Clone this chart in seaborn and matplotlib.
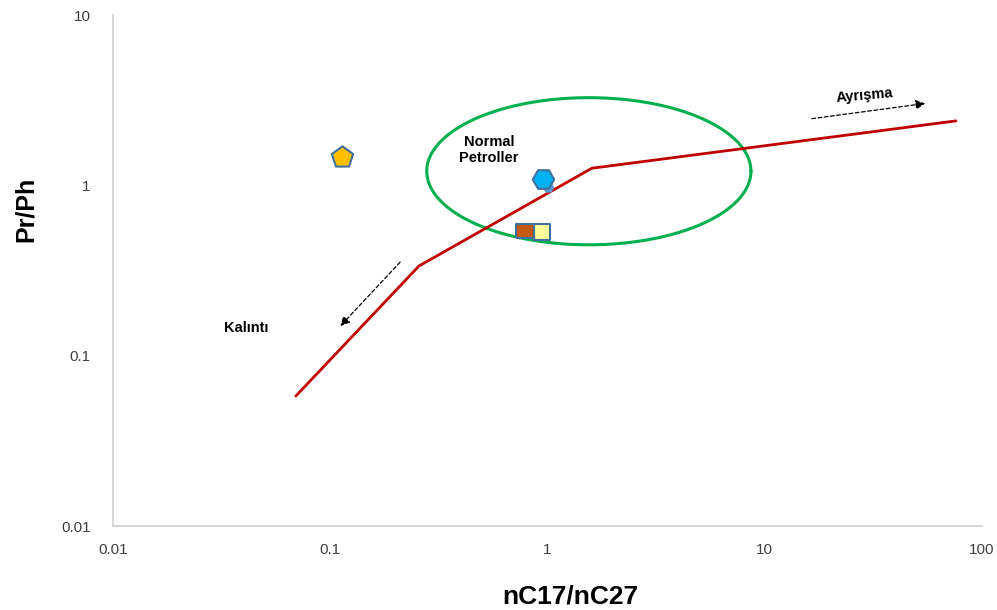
import numpy as np
import pandas as pd
import matplotlib
matplotlib.use("Agg")
import matplotlib.pyplot as plt
import seaborn as sns

# Maturity / source trend line (nC17/nC27 vs Pr/Ph)
trend_x = [0.0695, 0.256, 1.60, 75.9]
trend_y = [0.058, 0.336, 1.26, 2.39]

# Samples
sample_names = ["S1", "S2", "S3", "S4", "S5"]
sample_x = [0.113, 0.953, 1.005, 0.79, 0.944]
sample_y = [1.47, 1.09, 0.98, 0.54, 0.53]
wide_rect = [(-1.4, -1), (1.4, -1), (1.4, 1), (-1.4, 1), (-1.4, -1)]
sample_markers = ["p", "H", "H", wide_rect, "s"]
sample_colors = ["#FFC000", "#00B0F0", "#5B9BD5", "#C55A11", "#FFFF99"]
sample_edges = ["#41719C", "#41719C", "#5B9BD5", "#41719C", "#41719C"]
sample_sizes = [260, 240, 45, 175, 125]
sample_z = [5, 6, 5, 5, 6]

# "Normal Petroller" field: ellipse in log space (centre, half-axes in decades)
field_center = (1.55, 1.21)
field_half_axes = (0.746, 0.432)

x_ticks = [0.01, 0.1, 1, 10, 100]
y_ticks = [0.01, 0.1, 1, 10]
x_tick_labels = ["0.01", "0.1", "1", "10", "100"]
y_tick_labels = ["0.01", "0.1", "1", "10"]

sns.set_style("white")
plt.rcParams["font.family"] = ["Liberation Sans", "DejaVu Sans"]
plt.rcParams["text.color"] = "black"

fig = plt.figure(figsize=(9.97, 6.10), dpi=100)
ax = fig.add_axes([0.1133, 0.1377, 0.8717, 0.8377])

trend = pd.DataFrame({"x": trend_x, "y": trend_y})
sns.lineplot(data=trend, x="x", y="y", ax=ax, color="#C00000", linewidth=2.0,
             sort=False, zorder=3)

# Ellipse boundary drawn through the log-scaled axes
t = np.linspace(0, 2 * np.pi, 400)
lx = np.log10(field_center[0]) + field_half_axes[0] * np.cos(t)
ly = np.log10(field_center[1]) + field_half_axes[1] * np.sin(t)
ax.plot(10 ** lx, 10 ** ly, color="#00B050", linewidth=2.2, zorder=2)

samples = pd.DataFrame({"x": sample_x, "y": sample_y, "name": sample_names})
for i, row in samples.iterrows():
    sns.scatterplot(x=[row.x], y=[row.y], ax=ax, marker=sample_markers[i],
                    s=sample_sizes[i], color=sample_colors[i],
                    edgecolor=sample_edges[i], linewidth=1.5,
                    zorder=sample_z[i], legend=False)

ax.set_xscale("log")
ax.set_yscale("log")
ax.set_xlim(0.01, 100)
ax.set_ylim(0.01, 10)
ax.set_xticks(x_ticks)
ax.set_xticklabels(x_tick_labels)
ax.set_yticks(y_ticks)
ax.set_yticklabels(y_tick_labels)
ax.minorticks_off()
ax.tick_params(axis="both", length=0, colors="#404040", labelsize=11)
ax.tick_params(axis="x", pad=12)
ax.tick_params(axis="y", pad=16)

for side in ["top", "right"]:
    ax.spines[side].set_visible(False)
for side in ["left", "bottom"]:
    ax.spines[side].set_color("#D0D0D0")
    ax.spines[side].set_linewidth(1.2)

ax.set_xlabel("")
ax.set_ylabel("")
fig.text(570 / 997, 1 - 596 / 610, "nC17/nC27", fontsize=19, fontweight="bold",
         ha="center", va="center")
fig.text(26 / 997, 1 - 209 / 610, "Pr/Ph", fontsize=18, fontweight="bold",
         ha="center", va="center", rotation=90)

# Trend arrows and annotations
arrow_style = dict(arrowstyle="-|>", linestyle=(0, (3, 2)), color="black",
                   linewidth=0.9, mutation_scale=14)
ax.annotate("", xy=(56.4, 3.04), xytext=(16.0, 2.45), arrowprops=arrow_style)
ax.annotate("", xy=(0.109, 0.145), xytext=(0.214, 0.364), arrowprops=arrow_style)

ax.text(28.9, 3.39, "Ayrışma", fontsize=10.5, fontweight="bold",
        ha="center", va="center", rotation=5)
ax.text(0.041, 0.145, "Kalıntı", fontsize=10.5, fontweight="bold",
        ha="center", va="center")
ax.text(0.538, 1.61, "Normal\nPetroller", fontsize=10.5, fontweight="bold",
        ha="center", va="center", linespacing=1.2)

fig.savefig("out.png", dpi=100)
